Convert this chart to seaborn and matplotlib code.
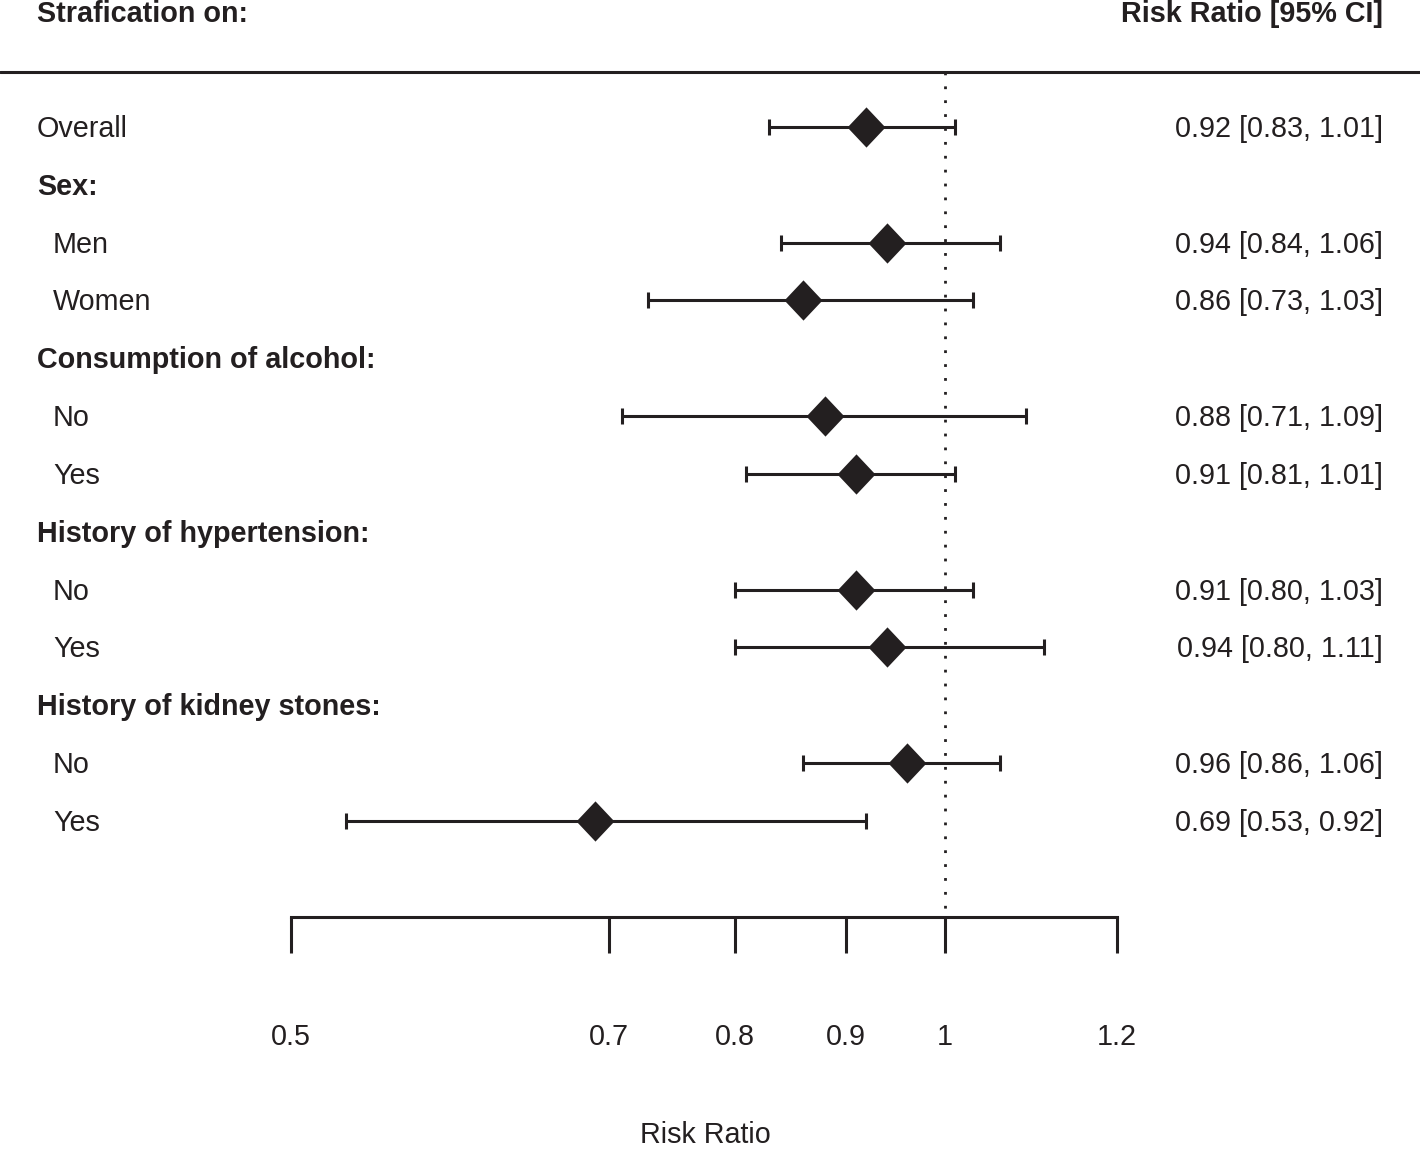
import numpy as np
import matplotlib
matplotlib.use("Agg")
import matplotlib.pyplot as plt
import matplotlib.transforms as mtransforms
from matplotlib.ticker import NullLocator
import seaborn as sns

# Rows of the forest plot, top to bottom
row_labels = ["Overall", "Sex:", "Men", "Women", "Consumption of alcohol:", "No", "Yes",
              "History of hypertension:", "No", "Yes", "History of kidney stones:", "No", "Yes"]
is_group = [False, True, False, False, True, False, False, True, False, False, True, False, False]
is_sub = [False, False, True, True, False, True, True, False, True, True, False, True, True]

# Estimates (NaN for group header rows)
rr = np.array([0.92, np.nan, 0.94, 0.86, np.nan, 0.88, 0.91, np.nan, 0.91, 0.94, np.nan, 0.96, 0.69])
ci_lo = np.array([0.83, np.nan, 0.84, 0.73, np.nan, 0.71, 0.81, np.nan, 0.80, 0.80, np.nan, 0.86, 0.53])
ci_hi = np.array([1.01, np.nan, 1.06, 1.03, np.nan, 1.09, 1.01, np.nan, 1.03, 1.11, np.nan, 1.06, 0.92])

xticks = [0.5, 0.7, 0.8, 0.9, 1, 1.2]
xtick_labels = ["0.5", "0.7", "0.8", "0.9", "1", "1.2"]

ink = "#231f20"
fs = 20.7

sns.set_style("white")
plt.rcParams["font.family"] = ["Liberation Sans", "DejaVu Sans"]

fig = plt.figure(figsize=(14.2, 11.49), dpi=100)
ax = fig.add_axes([0, 0, 1, 1])
ax.set_xscale("log")
ax.set_xlim(0.3673, 1.654)
ax.set_ylim(17.672, -2.196)

rows = np.arange(len(row_labels))
mask = ~np.isnan(rr)

# confidence intervals
ax.errorbar(rr[mask], rows[mask], xerr=[rr[mask] - ci_lo[mask], ci_hi[mask] - rr[mask]],
            fmt="none", ecolor=ink, elinewidth=2.2, capsize=6, capthick=2.2, zorder=2)
# point estimates (slightly tall diamond)
diamond = [(0, -1.06), (1, 0), (0, 1.06), (-1, 0), (0, -1.06)]
sns.scatterplot(x=rr[mask], y=rows[mask], marker=diamond, s=840, color=ink,
                linewidth=0, zorder=3, ax=ax)

# reference line and header rule
top_rule = -0.951
axis_y = 13.66
ax.axhline(top_rule, color=ink, lw=2.2)
ax.vlines(1, top_rule, axis_y, colors=ink, linestyles=(0, (1, 4)), lw=2)

# bottom axis
for s in ["top", "left", "right"]:
    ax.spines[s].set_visible(False)
ax.spines["bottom"].set_position(("data", axis_y))
ax.spines["bottom"].set_bounds(0.5, 1.2)
ax.spines["bottom"].set_linewidth(2.2)
ax.spines["bottom"].set_color(ink)
ax.set_xticks(xticks)
ax.set_xticklabels(xtick_labels)
ax.xaxis.set_minor_locator(NullLocator())
ax.tick_params(axis="x", direction="out", length=26, width=2.2, color=ink,
               pad=50, labelsize=fs, labelcolor=ink, bottom=True)
ax.set_yticks([])
ax.set_xlabel("Risk Ratio", fontsize=fs, color=ink)
ax.xaxis.set_label_coords(705 / 1420, 0.0245)

# text columns
trans = mtransforms.blended_transform_factory(ax.transAxes, ax.transData)
x_left, x_sub, x_right = 37 / 1420, 53 / 1420, 1383 / 1420
base = 0.173

ax.text(x_left, -1.816, "Strafication on:", transform=trans, fontsize=fs,
        fontweight="bold", color=ink, va="baseline", ha="left")
ax.text(x_right, -1.816, "Risk Ratio [95% CI]", transform=trans, fontsize=fs,
        fontweight="bold", color=ink, va="baseline", ha="right")

for i, lab in enumerate(row_labels):
    x = x_sub if is_sub[i] else x_left
    ax.text(x, i + base, lab, transform=trans, fontsize=fs, color=ink,
            fontweight="bold" if is_group[i] else "normal", va="baseline", ha="left")
    if mask[i]:
        ax.text(x_right, i + base, f"{rr[i]:.2f} [{ci_lo[i]:.2f}, {ci_hi[i]:.2f}]",
                transform=trans, fontsize=fs, color=ink, va="baseline", ha="right")

fig.savefig("out.png", dpi=100)
